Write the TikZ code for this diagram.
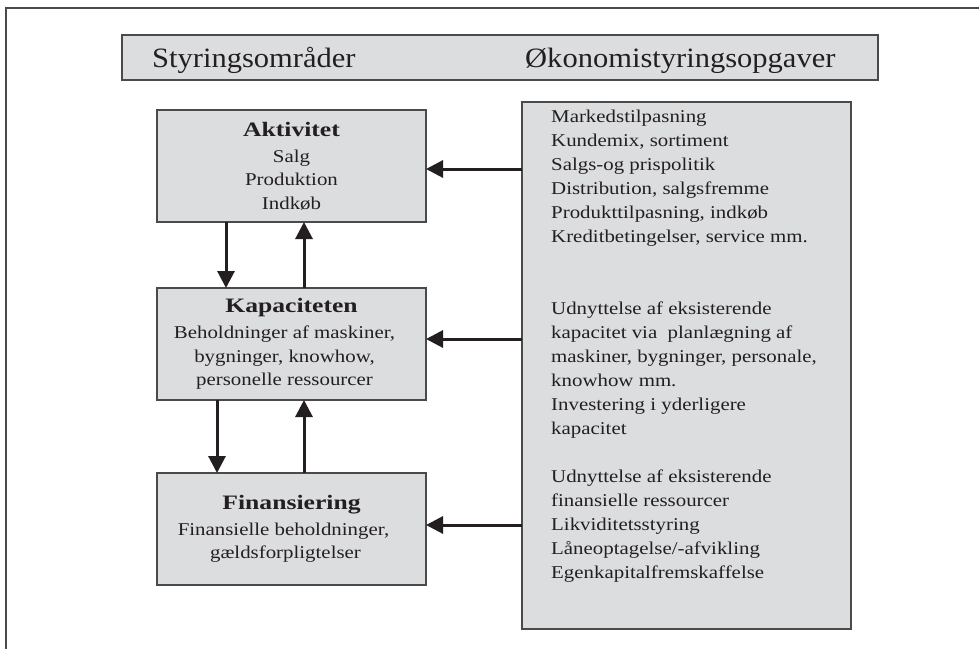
\documentclass[tikz,border=0pt]{standalone}
\usepackage{fontspec}
\setmainfont{Liberation Serif}[FakeStretch=1.16]
\newfontfamily\headfont{Liberation Serif}[FakeStretch=1.09]
\newfontfamily\titlefont{Liberation Serif}[FakeStretch=1.25]
\usetikzlibrary{arrows.meta}
\definecolor{boxfill}{HTML}{DCDDDF}
\definecolor{boxline}{HTML}{4A4A4A}
\definecolor{inkcol}{HTML}{231F20}
\newcommand{\boxtitle}[1]{{\titlefont\bfseries\fontsize{20.5}{24}\selectfont #1}\\[2.5pt]}
\begin{document}
\begin{tikzpicture}[x=1pt,y=-1pt,
  frame/.style={draw=boxline, line width=1.2pt},
  greybox/.style={draw=boxline, fill=boxfill, line width=1.2pt, rectangle, inner sep=0pt, outer sep=0pt},
  areabox/.style={greybox, minimum width=269pt, minimum height=112pt, align=center, text=inkcol,
    font=\fontsize{18}{23.5}\selectfont},
  headtext/.style={anchor=base west, inner sep=0pt, text=inkcol, font=\headfont\fontsize{28}{32}\selectfont},
  tasktext/.style={anchor=north west, inner sep=0pt, align=left, text=inkcol,
    font=\fontsize{18}{24}\selectfont},
  arr/.style={draw=inkcol, line width=3pt, -{Triangle[length=17pt,width=17pt]}}]
\useasboundingbox (0,0) rectangle (979,649);
\fill[white] (0,0) rectangle (979,649);
% outer frame (top and left edges)
\draw[frame] (979,8) -- (6,8) -- (6,649);
% header
\node[greybox, minimum width=756pt, minimum height=45pt] (head) at (500,57.5) {};
\node[headtext] (h1) at (152,67) {Styringsområder};
\node[headtext] (h2) at (525,67) {Økonomistyringsopgaver};
% left boxes
\node[areabox] (akt) at (291.5,166) {\boxtitle{Aktivitet}Salg\\Produktion\\Indkøb};
\node[areabox] (kap) at (291.5,344) {\boxtitle{Kapaciteten}Beholdninger af maskiner,\kern14pt\\bygninger, knowhow,\kern14pt\\personelle ressourcer\kern14pt};
\node[areabox] (fin) at (291.5,529) {\boxtitle{Finansiering}Finansielle beholdninger,\kern16pt\\gældsforpligtelser\kern12pt};
% right box
\node[greybox, minimum width=329pt, minimum height=527pt] (tasks) at (686.5,365.5) {};
\node[tasktext] (tasktxt) at (551,110) {Markedstilpasning\\Kundemix, sortiment\\Salgs-og prispolitik\\Distribution, salgsfremme\\Produkttilpasning, indkøb\\Kreditbetingelser, service mm.\\[48pt]Udnyttelse af eksisterende\\kapacitet via\ \ planlægning af\\maskiner, bygninger, personale,\\knowhow mm.\\Investering i yderligere\\kapacitet\\[24pt]Udnyttelse af eksisterende\\finansielle ressourcer\\Likviditetsstyring\\Låneoptagelse/-afvikling\\Egenkapitalfremskaffelse};
% horizontal arrows
\draw[arr] ([yshift=-3pt]akt.east -| tasks.west) -- ([yshift=-3pt]akt.east);
\draw[arr] ([yshift=5pt]kap.east -| tasks.west) -- ([yshift=5pt]kap.east);
\draw[arr] ([yshift=4pt]fin.east -| tasks.west) -- ([yshift=4pt]fin.east);
% vertical arrows
\draw[arr] ([xshift=-65.5pt]akt.south) -- ([xshift=-65.5pt]kap.north);
\draw[arr] ([xshift=12.5pt]kap.north) -- ([xshift=12.5pt]akt.south);
\draw[arr] ([xshift=-74.5pt]kap.south) -- ([xshift=-74.5pt]fin.north);
\draw[arr] ([xshift=12.5pt]fin.north) -- ([xshift=12.5pt]kap.south);
\end{tikzpicture}
\end{document}
